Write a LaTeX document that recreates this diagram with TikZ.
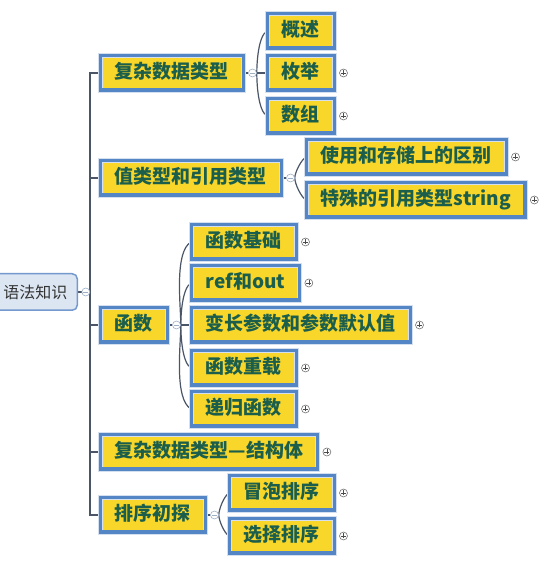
\documentclass[tikz,border=0pt]{standalone}
\usepackage{fontspec}
\newfontfamily\cjk{Noto Sans CJK SC}
\usetikzlibrary{positioning,backgrounds}

\definecolor{topicblue}{HTML}{5485C4}
\definecolor{topicyellow}{HTML}{F8D62A}
\definecolor{topicgreen}{HTML}{1B5E4B}
\definecolor{rootblue}{HTML}{7399CF}
\definecolor{rootfill}{HTML}{DCE6F2}
\definecolor{linkgray}{HTML}{4A5568}
\definecolor{foldgray}{HTML}{9DB0C8}

\tikzstyle{topic} = [rectangle, draw=white!75!topicblue, line width=0.7pt, double=topicblue, double distance=3.5pt, fill=topicyellow, text=topicgreen, font=\cjk\bfseries\fontsize{19}{19}\selectfont, inner xsep=14.5pt, minimum height=34.5pt, text height=15pt, text depth=4pt, anchor=west]
\tikzstyle{rootbox} = [rectangle, rounded corners=5pt, draw=rootblue, line width=1.5pt, fill=rootfill, text=black!80, font=\cjk\fontsize{16}{16}\selectfont, inner xsep=10pt, minimum height=36.5pt, anchor=east]
\tikzstyle{fold} = [circle, draw=foldgray, fill=white, line width=0.6pt, minimum size=8pt, inner sep=0pt, path picture={\draw[foldgray, line width=0.6pt] ([xshift=-2.5pt]path picture bounding box.center) -- ([xshift=2.5pt]path picture bounding box.center);}]
\tikzstyle{unfold} = [circle, draw=black!55, fill=white, line width=0.6pt, minimum size=8pt, inner sep=0pt, path picture={\draw[black!70, line width=0.7pt] ([xshift=-2.5pt]path picture bounding box.center) -- ([xshift=2.5pt]path picture bounding box.center) ([yshift=-2.5pt]path picture bounding box.center) -- ([yshift=2.5pt]path picture bounding box.center);}]

\begin{document}
\begin{tikzpicture}[x=1pt, y=1pt]
  \tikzset{link/.style={draw=linkgray, line width=1.2pt}}
  \useasboundingbox (0,0) rectangle (542,569);

  \node (R) [rootbox] at (78,277) {语法知识};
  \node (Rm) [fold, right=3.5pt of R] {};

  \node (A) [topic] at (100,496) {复杂数据类型};
  \node (Am) [fold, right=4.5pt of A] {};
  \node (AA) [topic] at (267,538) {概述};
  \node (AB) [topic] at (267,496) {枚举};
  \node (AC) [topic] at (267,453) {数组};
  \node (ABp) [unfold, right=4.5pt of AB] {};
  \node (ACp) [unfold, right=4.5pt of AC] {};

  \node (B) [topic] at (100,391) {值类型和引用类型};
  \node (Bm) [fold, right=4.5pt of B] {};
  \node (BA) [topic] at (306,412) {使用和存储上的区别};
  \node (BB) [topic] at (306,369) {特殊的引用类型string};
  \node (BAp) [unfold, right=4.5pt of BA] {};
  \node (BBp) [unfold, right=4.5pt of BB] {};

  \node (C) [topic] at (100,244) {函数};
  \node (Cm) [fold, right=4.5pt of C] {};
  \node (CA) [topic] at (191,327) {函数基础};
  \node (CB) [topic] at (191,286) {ref和out};
  \node (CC) [topic] at (191,244) {变长参数和参数默认值};
  \node (CD) [topic] at (191,201) {函数重载};
  \node (CE) [topic] at (191,160) {递归函数};
  \foreach \n in {CA,CB,CC,CD,CE}
    \node (\n p) [unfold, right=4.5pt of \n] {};

  \node (D) [topic] at (100,117) {复杂数据类型—结构体};
  \node (Dp) [unfold, right=4.5pt of D] {};

  \node (E) [topic] at (100,54) {排序初探};
  \node (Em) [fold, right=4.5pt of E] {};
  \node (EA) [topic] at (229,76) {冒泡排序};
  \node (EB) [topic] at (229,33) {选择排序};
  \node (EAp) [unfold, right=4.5pt of EA] {};
  \node (EBp) [unfold, right=4.5pt of EB] {};

  \begin{scope}[on background layer]
    \draw[link] (R) -- (Rm);
    \foreach \n in {A,B,C,D,E}
      \draw[link] (Rm.east) -| ([xshift=-10pt]\n.west) -- (\n.west);
    \draw[link] (A) -- (Am);
    \draw[link] (B) -- (Bm);
    \draw[link] (C) -- (Cm);
    \draw[link] (E) -- (Em);

    \draw[link] (Am.east) -- (AB.west);
    \draw[link] (Am.east) to[out=90, in=210, looseness=0.6] (AA.west);
    \draw[link] (Am.east) to[out=270, in=150, looseness=0.6] (AC.west);

    \draw[link] (Bm.east) to[out=90, in=210, looseness=0.6] (BA.west);
    \draw[link] (Bm.east) to[out=270, in=150, looseness=0.6] (BB.west);

    \draw[link] (Cm.east) -- (CC.west);
    \foreach \n in {CA,CB}
      \draw[link] (Cm.east) to[out=90, in=210, looseness=0.6] (\n.west);
    \foreach \n in {CD,CE}
      \draw[link] (Cm.east) to[out=270, in=150, looseness=0.6] (\n.west);

    \draw[link] (Em.east) to[out=90, in=210, looseness=0.6] (EA.west);
    \draw[link] (Em.east) to[out=270, in=150, looseness=0.6] (EB.west);
  \end{scope}
\end{tikzpicture}
\end{document}
